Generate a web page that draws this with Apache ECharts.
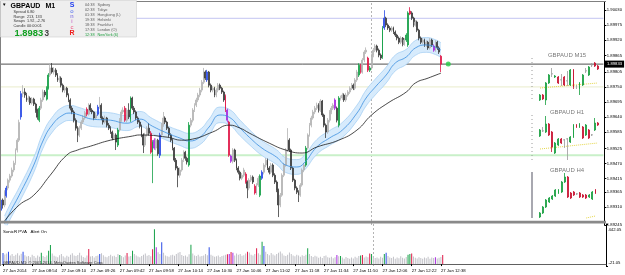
<!DOCTYPE html>
<html>
<head>
<meta charset="utf-8">
<script src="https://cdn.jsdelivr.net/npm/echarts@6/dist/echarts.min.js"></script>
<style>
  html, body { margin: 0; padding: 0; background: #fff; }
  #chart { width: 625px; height: 275px; }
</style>
</head>
<body>
<div id="chart"></div>
<script>
const FONT = 'Liberation Sans';
const SLOTS = 331;          // bar slots across the main window (last bar + empty space on the right)

// time axis, one label every 16 bars
const timeLabels = ['27 Jan 2014','27 Jan 08:54','27 Jan 09:10','27 Jan 09:26','27 Jan 09:42','27 Jan 09:58',
  '27 Jan 10:14','27 Jan 10:30','27 Jan 10:46','27 Jan 11:02','27 Jan 11:18','27 Jan 11:34','27 Jan 11:50',
  '27 Jan 12:06','27 Jan 12:22','27 Jan 12:38'];
const priceTicks = [1.90030,1.89975,1.89920,1.89865,1.89805,1.89750,1.89695,1.89640,1.89585,1.89525,
  1.89470,1.89415,1.89365,1.89310,1.89245];
const volTicks = [442.05, -21.05];

// M1 bars
const opens = [
  1.89299,1.89336,1.89318,1.89352,1.89380,1.89409,1.89424,1.89446,1.89471,1.89519,
  1.89555,1.89640,1.89725,1.89731,1.89720,1.89702,1.89709,1.89691,1.89705,1.89687,
  1.89665,1.89628,1.89672,1.89702,1.89731,1.89705,1.89745,1.89793,1.89819,1.89804,
  1.89811,1.89793,1.89775,1.89782,1.89756,1.89738,1.89745,1.89720,1.89702,1.89672,
  1.89658,1.89628,1.89599,1.89574,1.89599,1.89621,1.89636,1.89668,1.89650,1.89683,
  1.89665,1.89658,1.89636,1.89650,1.89676,1.89683,1.89636,1.89621,1.89636,1.89610,
  1.89599,1.89585,1.89563,1.89574,1.89537,1.89592,1.89628,1.89658,1.89672,1.89628,
  1.89665,1.89630,1.89709,1.89672,1.89658,1.89636,1.89621,1.89606,1.89574,1.89537,
  1.89574,1.89599,1.89580,1.89511,1.89555,1.89526,1.89555,1.89500,1.89574,1.89610,
  1.89636,1.89621,1.89599,1.89574,1.89555,1.89526,1.89482,1.89453,1.89427,1.89446,
  1.89482,1.89511,1.89489,1.89464,1.89610,1.89628,1.89665,1.89683,1.89702,1.89720,
  1.89738,1.89767,1.89804,1.89775,1.89804,1.89756,1.89738,1.89745,1.89720,1.89738,
  1.89756,1.89745,1.89731,1.89716,1.89665,1.89621,1.89497,1.89478,1.89519,1.89482,
  1.89453,1.89438,1.89416,1.89427,1.89431,1.89402,1.89380,1.89409,1.89420,1.89387,
  1.89362,1.89391,1.89354,1.89416,1.89438,1.89464,1.89482,1.89453,1.89438,1.89464,
  1.89427,1.89402,1.89372,1.89318,1.89354,1.89427,1.89464,1.89519,1.89555,1.89519,
  1.89453,1.89409,1.89380,1.89365,1.89354,1.89391,1.89446,1.89464,1.89526,1.89574,
  1.89610,1.89636,1.89658,1.89672,1.89683,1.89665,1.89698,1.89647,1.89610,1.89585,
  1.89628,1.89658,1.89672,1.89702,1.89672,1.89610,1.89705,1.89709,1.89720,1.89702,
  1.89720,1.89731,1.89745,1.89756,1.89745,1.89775,1.89793,1.89829,1.89804,1.89848,
  1.89877,1.89855,1.89811,1.89819,1.89866,1.89884,1.89899,1.89884,1.89866,1.89859,
  1.89965,1.90001,1.89976,1.89965,1.89957,1.89965,1.89950,1.89939,1.89928,1.89913,
  1.89928,1.89906,1.89921,1.89903,1.90027,1.90020,1.90001,1.89976,1.89987,1.89957,
  1.89928,1.89913,1.89921,1.89903,1.89913,1.89892,1.89921,1.89899,1.89884,1.89913,
  1.89892,1.89862];
const closes = [
  1.89336,1.89318,1.89365,1.89380,1.89409,1.89424,1.89446,1.89471,1.89519,1.89555,
  1.89620,1.89725,1.89731,1.89720,1.89702,1.89709,1.89691,1.89705,1.89687,1.89665,
  1.89639,1.89672,1.89702,1.89731,1.89720,1.89745,1.89793,1.89819,1.89804,1.89811,
  1.89793,1.89775,1.89782,1.89756,1.89738,1.89745,1.89720,1.89702,1.89672,1.89658,
  1.89628,1.89599,1.89574,1.89599,1.89621,1.89636,1.89655,1.89650,1.89683,1.89665,
  1.89658,1.89636,1.89647,1.89676,1.89683,1.89636,1.89621,1.89636,1.89610,1.89599,
  1.89585,1.89563,1.89574,1.89548,1.89592,1.89628,1.89658,1.89665,1.89628,1.89665,
  1.89640,1.89709,1.89672,1.89658,1.89636,1.89621,1.89606,1.89574,1.89537,1.89574,
  1.89599,1.89580,1.89511,1.89548,1.89526,1.89555,1.89505,1.89574,1.89610,1.89636,
  1.89621,1.89599,1.89574,1.89555,1.89526,1.89482,1.89453,1.89427,1.89446,1.89482,
  1.89511,1.89489,1.89475,1.89610,1.89628,1.89665,1.89683,1.89702,1.89720,1.89738,
  1.89767,1.89804,1.89782,1.89804,1.89756,1.89738,1.89745,1.89720,1.89738,1.89756,
  1.89745,1.89731,1.89702,1.89665,1.89628,1.89500,1.89478,1.89519,1.89482,1.89453,
  1.89438,1.89416,1.89427,1.89446,1.89402,1.89380,1.89409,1.89420,1.89402,1.89362,
  1.89391,1.89416,1.89424,1.89438,1.89464,1.89482,1.89453,1.89438,1.89464,1.89427,
  1.89402,1.89372,1.89318,1.89354,1.89427,1.89464,1.89519,1.89555,1.89519,1.89453,
  1.89409,1.89380,1.89365,1.89354,1.89391,1.89446,1.89464,1.89526,1.89574,1.89610,
  1.89636,1.89658,1.89672,1.89683,1.89665,1.89698,1.89647,1.89610,1.89585,1.89628,
  1.89658,1.89672,1.89683,1.89672,1.89628,1.89709,1.89709,1.89720,1.89702,1.89720,
  1.89731,1.89745,1.89756,1.89745,1.89775,1.89804,1.89829,1.89804,1.89848,1.89877,
  1.89884,1.89811,1.89819,1.89866,1.89884,1.89899,1.89884,1.89866,1.89855,1.89965,
  1.90001,1.89976,1.89965,1.89957,1.89965,1.89950,1.89939,1.89928,1.89913,1.89928,
  1.89906,1.89921,1.89939,1.90020,1.90016,1.90001,1.89976,1.89987,1.89957,1.89928,
  1.89913,1.89921,1.89903,1.89913,1.89892,1.89921,1.89903,1.89884,1.89913,1.89892,
  1.89877,1.89833];
const lows = [
  1.89290,1.89305,1.89310,1.89345,1.89372,1.89400,1.89418,1.89438,1.89465,1.89510,
  1.89548,1.89630,1.89712,1.89710,1.89695,1.89694,1.89684,1.89685,1.89680,1.89655,
  1.89630,1.89621,1.89665,1.89695,1.89712,1.89700,1.89740,1.89786,1.89798,1.89795,
  1.89786,1.89768,1.89765,1.89748,1.89730,1.89728,1.89712,1.89694,1.89664,1.89650,
  1.89620,1.89590,1.89548,1.89566,1.89592,1.89614,1.89630,1.89642,1.89645,1.89658,
  1.89650,1.89628,1.89630,1.89644,1.89670,1.89628,1.89612,1.89615,1.89602,1.89592,
  1.89578,1.89555,1.89556,1.89519,1.89530,1.89586,1.89622,1.89650,1.89622,1.89620,
  1.89632,1.89622,1.89665,1.89650,1.89628,1.89614,1.89598,1.89566,1.89508,1.89530,
  1.89568,1.89572,1.89505,1.89398,1.89520,1.89518,1.89498,1.89490,1.89568,1.89604,
  1.89614,1.89592,1.89566,1.89548,1.89518,1.89475,1.89445,1.89383,1.89418,1.89440,
  1.89475,1.89480,1.89466,1.89458,1.89602,1.89620,1.89658,1.89676,1.89694,1.89712,
  1.89730,1.89760,1.89775,1.89768,1.89748,1.89730,1.89730,1.89712,1.89712,1.89730,
  1.89738,1.89724,1.89695,1.89658,1.89620,1.89494,1.89472,1.89470,1.89475,1.89445,
  1.89430,1.89408,1.89409,1.89420,1.89396,1.89343,1.89372,1.89402,1.89395,1.89356,
  1.89355,1.89384,1.89347,1.89410,1.89430,1.89456,1.89446,1.89430,1.89432,1.89420,
  1.89395,1.89365,1.89274,1.89310,1.89348,1.89420,1.89458,1.89512,1.89512,1.89446,
  1.89402,1.89372,1.89358,1.89329,1.89348,1.89385,1.89438,1.89458,1.89520,1.89568,
  1.89602,1.89630,1.89650,1.89665,1.89656,1.89658,1.89640,1.89602,1.89563,1.89578,
  1.89620,1.89650,1.89665,1.89665,1.89620,1.89602,1.89700,1.89702,1.89695,1.89695,
  1.89714,1.89724,1.89738,1.89738,1.89738,1.89768,1.89786,1.89798,1.89798,1.89840,
  1.89870,1.89804,1.89804,1.89812,1.89858,1.89877,1.89876,1.89858,1.89848,1.89852,
  1.89958,1.89968,1.89958,1.89950,1.89950,1.89943,1.89932,1.89920,1.89906,1.89906,
  1.89898,1.89900,1.89914,1.89896,1.90012,1.89994,1.89968,1.89970,1.89950,1.89920,
  1.89906,1.89906,1.89896,1.89896,1.89885,1.89886,1.89896,1.89878,1.89878,1.89885,
  1.89870,1.89804];
const highs = [
  1.89345,1.89342,1.89372,1.89388,1.89415,1.89432,1.89455,1.89480,1.89525,1.89562,
  1.89630,1.89735,1.89756,1.89745,1.89728,1.89718,1.89715,1.89712,1.89710,1.89692,
  1.89670,1.89680,1.89710,1.89740,1.89738,1.89752,1.89800,1.89837,1.89837,1.89822,
  1.89818,1.89800,1.89790,1.89788,1.89762,1.89752,1.89750,1.89726,1.89708,1.89680,
  1.89664,1.89635,1.89606,1.89608,1.89628,1.89645,1.89662,1.89675,1.89690,1.89690,
  1.89672,1.89662,1.89655,1.89684,1.89713,1.89690,1.89642,1.89645,1.89640,1.89618,
  1.89606,1.89590,1.89582,1.89580,1.89600,1.89636,1.89666,1.89675,1.89680,1.89672,
  1.89690,1.89715,1.89714,1.89680,1.89664,1.89642,1.89628,1.89612,1.89580,1.89582,
  1.89606,1.89618,1.89588,1.89555,1.89562,1.89562,1.89560,1.89582,1.89618,1.89658,
  1.89642,1.89626,1.89604,1.89580,1.89560,1.89530,1.89490,1.89460,1.89455,1.89490,
  1.89518,1.89516,1.89495,1.89621,1.89636,1.89672,1.89690,1.89710,1.89728,1.89746,
  1.89775,1.89819,1.89810,1.89812,1.89808,1.89762,1.89752,1.89750,1.89745,1.89764,
  1.89762,1.89750,1.89736,1.89722,1.89670,1.89626,1.89502,1.89526,1.89524,1.89488,
  1.89460,1.89444,1.89435,1.89454,1.89438,1.89408,1.89416,1.89428,1.89426,1.89394,
  1.89398,1.89424,1.89430,1.89445,1.89471,1.89490,1.89488,1.89460,1.89472,1.89470,
  1.89434,1.89408,1.89378,1.89362,1.89434,1.89472,1.89526,1.89599,1.89562,1.89524,
  1.89458,1.89414,1.89386,1.89372,1.89398,1.89452,1.89472,1.89534,1.89580,1.89618,
  1.89644,1.89666,1.89680,1.89692,1.89690,1.89705,1.89702,1.89652,1.89616,1.89636,
  1.89665,1.89680,1.89690,1.89708,1.89678,1.89716,1.89718,1.89728,1.89726,1.89728,
  1.89738,1.89752,1.89764,1.89762,1.89782,1.89812,1.89836,1.89834,1.89855,1.89884,
  1.89894,1.89860,1.89826,1.89872,1.89892,1.89906,1.89904,1.89890,1.89872,1.89972,
  1.90030,1.90006,1.89982,1.89972,1.89972,1.89970,1.89956,1.89944,1.89934,1.89935,
  1.89932,1.89928,1.89946,1.90026,1.90041,1.90026,1.90006,1.89994,1.89992,1.89962,
  1.89934,1.89928,1.89926,1.89920,1.89918,1.89928,1.89926,1.89905,1.89920,1.89918,
  1.89898,1.89866];

// SonicR PVA tick volume
const volumes = [
  122,105,118,137,96,110,88,102,120,95, 115,137,98,84,90,76,102,88,70,95,
  82,126,90,78,96,148,210,118,92,84, 76,98,110,86,72,92,80,104,120,96,
  88,100,126,94,78,70,96,166,84,90, 72,88,96,111,120,98,82,76,90,104,
  86,92,78,112,100,88,76,94,122,84, 90,148,112,96,84,76,90,102,118,92,
  100,86,163,383,185,130,112,240,126,94, 86,80,98,104,92,110,124,132,100,88,
  94,82,108,214,118,96,88,102,84,90, 96,112,98,185,104,92,80,86,94,78,
  88,96,102,108,111,133,126,96,118,104, 110,92,98,116,137,128,102,94,110,174,
  120,104,247,200,136,112,98,122,106,94, 110,124,140,118,96,88,104,128,110,96,
  86,102,94,82,98,90,104,174,112,88, 78,92,84,70,80,66,88,94,76,70,
  82,64,76,100,86,89,72,60,78,66, 58,74,62,80,70,88,96,100,72,84,
  76,118,111,90,68,74,62,80,70,111, 126,88,74,66,80,58,72,64,86,70,
  62,78,104,111,118,84,70,62,76,66, 58,72,64,80,60,74,68,75,62,70,
  78,100];

// PVA candle classes
const greenBars  = [21,25,26,64,71,83,103,142,167,185,196,202,209,222,223];
const redBars    = [47,68,82,123,125,134,139,197,201,224,241];
const blueBars   = [0,3,11,53,87,113,143,210];
const purpleBars = [84,124,126,183,237];

// dragon band (EMA34 high / close / low) and slow MA, sampled along the bars
const bandIdx = [2,5,10,18,23,28,34,38,43,50,60,69,76,83,91,98,103,109,114,120,125,131,136,143,151,156,162,166,173,180,187,195,200,205,211,216,222,227,233,238,241];
const bandUpper = [1.89278,1.89320,1.89382,1.89492,1.89580,1.89638,1.89676,1.89682,1.89674,1.89660,1.89655,1.89645,1.89660,1.89634,1.89608,1.89590,1.89580,1.89594,1.89632,1.89676,1.89668,1.89628,1.89594,1.89553,1.89520,1.89491,1.89484,1.89498,1.89557,1.89590,1.89620,1.89683,1.89738,1.89778,1.89822,1.89866,1.89887,1.89919,1.89930,1.89922,1.89911];
const bandMid = [1.89250,1.89292,1.89354,1.89464,1.89552,1.89610,1.89647,1.89654,1.89647,1.89632,1.89628,1.89617,1.89632,1.89606,1.89581,1.89563,1.89552,1.89566,1.89603,1.89647,1.89639,1.89599,1.89566,1.89526,1.89493,1.89464,1.89457,1.89471,1.89530,1.89563,1.89592,1.89654,1.89709,1.89749,1.89793,1.89837,1.89859,1.89892,1.89903,1.89895,1.89884];
const bandLower = [1.89223,1.89265,1.89327,1.89437,1.89525,1.89583,1.89620,1.89627,1.89620,1.89605,1.89601,1.89590,1.89605,1.89579,1.89554,1.89536,1.89525,1.89539,1.89575,1.89619,1.89611,1.89571,1.89539,1.89499,1.89466,1.89437,1.89430,1.89444,1.89503,1.89536,1.89565,1.89626,1.89680,1.89720,1.89764,1.89808,1.89832,1.89865,1.89876,1.89868,1.89857];
const slowIdx = [2,10,18,27,36,42,49,60,72,76,91,99,105,116,125,131,136,147,156,165,173,185,195,203,212,222,227,234,241];
const slowMa = [1.89260,1.89318,1.89354,1.89427,1.89500,1.89519,1.89533,1.89555,1.89570,1.89574,1.89566,1.89555,1.89559,1.89585,1.89610,1.89599,1.89581,1.89544,1.89519,1.89508,1.89530,1.89555,1.89592,1.89647,1.89691,1.89731,1.89764,1.89782,1.89800];

// horizontal levels drawn across the window
const levelPrices = [1.90000, 1.89750, 1.89500];
const levelColors = ['#cfd0f4', '#eef0d6', '#c9f0c9'];
const levelWidths = [1.2, 1.2, 2];
const lastPrice = 1.89833;
const cursorBar = 203;
const signalBar = 245;

// multi-timeframe mini charts
const m15Open  = [1.89323,1.89398,1.89323,1.89578,1.89713,1.89668,1.89668,1.89623,1.89668,1.89608,1.89548,1.89773,1.89503,1.89488,1.89548,1.89758,1.89698,1.89848,1.89878,1.89833];
const m15Close = [1.89398,1.89338,1.89578,1.89698,1.89716,1.89683,1.89578,1.89626,1.89548,1.89611,1.89773,1.89518,1.89506,1.89578,1.89698,1.89761,1.89818,1.89851,1.89833,1.89788];
const m15Low   = [1.89308,1.89323,1.89248,1.89563,1.89668,1.89653,1.89563,1.89533,1.89533,1.89533,1.89533,1.89488,1.89488,1.89398,1.89533,1.89728,1.89683,1.89818,1.89818,1.89773];
const m15High  = [1.89413,1.89413,1.89593,1.89713,1.89803,1.89698,1.89683,1.89713,1.89683,1.89758,1.89788,1.89788,1.89548,1.89593,1.89713,1.89803,1.89833,1.89878,1.89893,1.89848];
const h1Open  = [1.89613,1.89713,1.89693,1.89853,1.89693,1.89273,1.89433,1.89553,1.89533,1.89553,1.89493,1.89593,1.89833,1.89793,1.89793,1.89633,1.89733,1.89633,1.89733,1.89873];
const h1Close = [1.89733,1.89716,1.89853,1.89633,1.89393,1.89473,1.89553,1.89473,1.89536,1.89556,1.89593,1.89833,1.89793,1.89853,1.89573,1.89833,1.89573,1.89636,1.89873,1.89833];
const h1Low   = [1.89593,1.89693,1.89673,1.89613,1.89293,1.89253,1.89413,1.89453,1.89373,1.89133,1.89473,1.89573,1.89773,1.89773,1.89553,1.89613,1.89553,1.89613,1.89713,1.89813];
const h1High  = [1.89753,1.89793,1.90013,1.89873,1.89713,1.89493,1.89573,1.89573,1.89553,1.89573,1.89613,1.89853,1.89853,1.89873,1.89813,1.89853,1.89753,1.89653,1.89973,1.89893];
const h4Open  = [1.88873,1.89033,1.89273,1.89473,1.89593,1.89713,1.89833,1.89873,1.90273,1.90473,1.89833,1.89873,1.89793,1.89833,1.89753,1.89753,1.89673,1.89593,1.89953];
const h4Close = [1.89033,1.89273,1.89553,1.89633,1.89713,1.89953,1.89953,1.90273,1.90473,1.89673,1.89633,1.89753,1.89800,1.89673,1.89673,1.89633,1.89753,1.89873,1.89833];
const h4Low   = [1.88833,1.88993,1.89233,1.89433,1.89553,1.89673,1.89793,1.89833,1.90233,1.89633,1.89593,1.89713,1.89753,1.89633,1.89633,1.89593,1.89633,1.89553,1.89793];
const h4High  = [1.89073,1.89313,1.89593,1.89673,1.89753,1.89993,1.89993,1.90313,1.90633,1.90513,1.89873,1.89913,1.89833,1.89873,1.89793,1.89793,1.89793,1.89913,1.89993];
const m15Trend = [[0, 1.89503], [19, 1.89578]];
const h1Trend  = [[0, 1.89353], [19, 1.89473]];
const h4Trend  = [[15, 1.88833], [18, 1.88913]];

const PVA = { green: '#14a046', red: '#e01848', blue: '#2a4ae6', purple: '#a828e0' };

function pvaClass(i) {
  if (greenBars.includes(i)) return 'green';
  if (redBars.includes(i)) return 'red';
  if (blueBars.includes(i)) return 'blue';
  if (purpleBars.includes(i)) return 'purple';
  return null;
}
function candleColor(i) {
  const k = pvaClass(i);
  if (k) return PVA[k];
  return closes[i] >= opens[i] ? '#b4b4b4' : '#3a3a3a';
}
function volColor(i) {
  const k = pvaClass(i);
  return k ? PVA[k] : '#c2c2c8';
}
function styled(value, c) {
  return { value, itemStyle: { color: c, color0: c, borderColor: c, borderColor0: c } };
}
function miniData(o, c, l, h) {
  return o.map((v, i) => {
    const col = Math.abs(c[i] - v) < 0.0001 ? '#9a9a9a' : (c[i] > v ? '#18a040' : '#c8102e');
    return styled([v, c[i], l[i], h[i]], col);
  });
}

const slots = Array.from({ length: SLOTS }, (_, i) => i);
const showTime = i => i % 16 === 0 && i / 16 < timeLabels.length;

const candleData = opens.map((o, i) => styled([o, closes[i], lows[i], highs[i]], candleColor(i)));
const volData = volumes.map((v, i) => ({ value: v, itemStyle: { color: volColor(i) } }));

// a flat line across the whole main window at one price
function levelSeries(price, color, width, z, extra) {
  return Object.assign({ type: 'line', xAxisIndex: 0, yAxisIndex: 0, z, silent: true, symbol: 'none',
    data: [[0, price], [SLOTS - 1, price]], lineStyle: { color, width } }, extra || {});
}

function txt(x, y, text, size, color, weight, align) {
  const a = align || 'left';
  return { type: 'text', x, y, z: 100, silent: true,
    style: { text, fill: color, font: (weight || 'normal') + ' ' + size + 'px ' + FONT,
      align: a, textAlign: a, verticalAlign: 'middle', textVerticalAlign: 'middle' } };
}
function hline(x1, y1, x2, y2, color, dash, width) {
  return { type: 'line', z: 90, silent: true, shape: { x1, y1, x2, y2 },
    style: { stroke: color, lineWidth: width || 1, lineDash: dash || null } };
}

const infoRows = [['Spread', '6.80'], ['Range', '213, 133'], ['Swaps', '1.92, -2.76'], ['Candle', '00:00:01']];
const sessions = [['04:38', 'Sydney'], ['02:38', 'Tokyo'], ['01:38', 'Hongkong (L)'], ['19:38', 'Helsinki'],
  ['18:38', 'Frankfurt'], ['17:38', 'London (O)'], ['12:38', 'NewYork (6)']];
const sonicLetters = [['S', '#1e3cf0', 'bold', 7], ['o', '#4a6af0', 'normal', 6], ['n', '#6a5ae0', 'normal', 6],
  ['i', '#c050c0', 'normal', 6], ['c', '#f05080', 'normal', 6], ['R', '#f01e1e', 'bold', 7]];
const sonicY = [5, 11.5, 16.7, 21.8, 27.3, 33.3];

const graphics = [
  hline(0, 1.5, 606, 1.5, '#808080'),
  hline(0.5, 1, 0.5, 266, '#808080'),
  { type: 'rect', z: 90, silent: true, shape: { x: 0, y: 220.8, width: 606, height: 2.6 }, style: { fill: '#8a8a8a' } },
  // info panel
  { type: 'rect', z: 99, silent: true, shape: { x: 0.5, y: 0.5, width: 136, height: 36.5 },
    style: { fill: '#eeeeee', stroke: '#cfcfcf', lineWidth: 0.6 } },
  txt(2, 5, '\u25BC', 4.5, '#000'),
  txt(10.5, 5.8, 'GBPAUD', 7, '#000', 'bold'),
  txt(45.5, 5.8, 'M1', 7, '#000', 'bold'),
  txt(14.5, 33.5, '1.8983', 9.4, '#10a020', 'bold'),
  txt(44.5, 33.8, '3', 8.2, '#404040', 'bold'),
  // mini chart titles and side marks
  txt(567, 55.5, 'GBPAUD M15', 6, '#7a7a7a', 'normal', 'center'),
  txt(567, 112.5, 'GBPAUD H1', 6, '#7a7a7a', 'normal', 'center'),
  txt(567, 170.5, 'GBPAUD H4', 6, '#7a7a7a', 'normal', 'center'),
  hline(532, 58, 532, 100, '#9a9a9a', [1, 3]),
  hline(532, 115, 532, 160, '#9a9a9a', [1, 3]),
  { type: 'rect', z: 90, silent: true, shape: { x: 531, y: 172, width: 2, height: 46 }, style: { fill: '#a8a8b0' } },
  // sub window captions
  txt(3, 232, 'SonicR PVA   Alert On', 4.4, '#000'),
  txt(3, 262.6, 'GBPAUD,M1: \u00A9 2001-2014, MetaQuotes Software Corp.', 4, '#303030')
];
infoRows.forEach((r, k) => {
  const y = 12.3 + k * 4.5;
  graphics.push(txt(13.5, y, r[0], 3.8, '#333'));
  graphics.push(txt(27, y, r[1], 3.8, '#333'));
});
sonicLetters.forEach((s, k) => graphics.push(txt(72, sonicY[k], s[0], s[3], s[1], s[2], 'center')));
sessions.forEach((s, k) => {
  const y = 5 + k * 5;
  const col = k === sessions.length - 1 ? '#20a040' : '#606060';
  graphics.push(txt(85, y, s[0], 3.8, col));
  graphics.push(txt(97.5, y, s[1], 3.8, col));
});

const miniX = n => ({ type: 'category', data: Array.from({ length: n }, (_, i) => i), show: false, boundaryGap: true });
const miniY = (min, max) => ({ type: 'value', min, max, show: false, splitLine: { show: false } });
const trendLine = (data, idx) => ({ type: 'line', xAxisIndex: idx, yAxisIndex: idx, data, symbol: 'none', silent: true,
  lineStyle: { color: '#e6d84a', width: 1, type: 'dotted' }, z: 3 });
const miniCandles = (data, idx) => ({ type: 'candlestick', xAxisIndex: idx, yAxisIndex: idx, data, barWidth: 1.4,
  itemStyle: { borderWidth: 0.8 }, silent: true, z: 4 });

const cursorLine = { silent: true, symbol: 'none', animation: false, label: { show: false }, z: 0,
  data: [{ xAxis: cursorBar, lineStyle: { color: '#b4b4b4', width: 1, type: [2, 2] } }] };

const series = levelPrices.map((p, k) => levelSeries(p, levelColors[k], levelWidths[k], 0));
series.push(
  levelSeries(lastPrice, '#505050', 1, 0, {
    endLabel: { show: true, formatter: lastPrice.toFixed(5), backgroundColor: '#000', color: '#fff',
      fontSize: 4.2, padding: [1.5, 2, 1.5, 2], distance: 1.5, fontFamily: FONT } }),
  // dragon band
  { type: 'line', xAxisIndex: 0, yAxisIndex: 0, stack: 'band', smooth: true, symbol: 'none', silent: true, z: 1,
    data: bandIdx.map((x, k) => [x, bandLower[k]]),
    lineStyle: { color: '#9fcbf2', width: 0.7 }, markLine: cursorLine },
  { type: 'line', xAxisIndex: 0, yAxisIndex: 0, stack: 'band', smooth: true, symbol: 'none', silent: true, z: 1,
    data: bandIdx.map((x, k) => [x, bandUpper[k] - bandLower[k]]),
    lineStyle: { color: '#9fcbf2', width: 0.7 }, areaStyle: { color: '#d7ebfc', opacity: 1 } },
  // M1 candles
  { type: 'candlestick', xAxisIndex: 0, yAxisIndex: 0, data: candleData, barWidth: 1.4, silent: true, z: 2,
    itemStyle: { borderWidth: 0.8 } },
  { type: 'line', xAxisIndex: 0, yAxisIndex: 0, smooth: true, symbol: 'none', silent: true, z: 3,
    data: bandIdx.map((x, k) => [x, bandMid[k]]), lineStyle: { color: '#3a8ee0', width: 0.8 } },
  { type: 'line', xAxisIndex: 0, yAxisIndex: 0, smooth: true, symbol: 'none', silent: true, z: 3,
    data: slowIdx.map((x, k) => [x, slowMa[k]]), lineStyle: { color: '#1a1a1a', width: 0.8 } },
  { type: 'scatter', xAxisIndex: 0, yAxisIndex: 0, data: [[signalBar, lastPrice]], symbolSize: 5, silent: true, z: 4,
    itemStyle: { color: '#22cc44' } },
  // volume window
  { type: 'bar', xAxisIndex: 1, yAxisIndex: 1, data: volData, barWidth: 1, silent: true, z: 2, markLine: cursorLine },
  // mini charts
  trendLine(m15Trend, 2), trendLine(h1Trend, 3), trendLine(h4Trend, 4),
  miniCandles(miniData(m15Open, m15Close, m15Low, m15High), 2),
  miniCandles(miniData(h1Open, h1Close, h1Low, h1High), 3),
  miniCandles(miniData(h4Open, h4Close, h4Low, h4High), 4)
);

const chart = echarts.init(document.getElementById('chart'));
chart.setOption({
  animation: false,
  backgroundColor: '#ffffff',
  textStyle: { fontFamily: FONT },
  grid: [
    { left: 0, top: 2, width: 606, height: 223 },
    { left: 0, top: 224, width: 606, height: 42 },
    { left: 538.5, top: 60, width: 60.8, height: 46 },
    { left: 538.5, top: 116, width: 60.8, height: 44 },
    { left: 538.5, top: 172, width: 58.5, height: 48 }
  ],
  xAxis: [
    { type: 'category', gridIndex: 0, data: slots, boundaryGap: true,
      axisLine: { show: false }, axisTick: { show: false }, axisLabel: { show: false }, splitLine: { show: false } },
    { type: 'category', gridIndex: 1, data: slots, boundaryGap: true,
      axisLine: { show: true, lineStyle: { color: '#606060', width: 1 } },
      axisTick: { show: true, alignWithLabel: true, interval: i => showTime(i), length: 2, lineStyle: { color: '#000' } },
      axisLabel: { interval: i => showTime(i), formatter: (v, i) => timeLabels[i / 16], align: 'left',
        fontSize: 4.3, color: '#000', margin: 2.5, fontFamily: FONT } },
    Object.assign({ gridIndex: 2 }, miniX(20)),
    Object.assign({ gridIndex: 3 }, miniX(20)),
    Object.assign({ gridIndex: 4 }, miniX(19))
  ],
  yAxis: [
    { type: 'value', gridIndex: 0, position: 'right', min: 1.89245, max: 1.90060,
      axisLine: { show: true, lineStyle: { color: '#000', width: 1 } },
      axisTick: { show: true, customValues: priceTicks, length: 2, lineStyle: { color: '#000' } },
      axisLabel: { customValues: priceTicks, formatter: v => v.toFixed(5), fontSize: 4.2, color: '#000', margin: 2.5, fontFamily: FONT },
      splitLine: { show: false } },
    { type: 'value', gridIndex: 1, position: 'right', min: -21.05, max: 442.05,
      axisLine: { show: true, lineStyle: { color: '#000', width: 1 } },
      axisTick: { show: true, customValues: volTicks, length: 2, lineStyle: { color: '#000' } },
      axisLabel: { customValues: volTicks, fontSize: 4.2, color: '#000', margin: 2.5, fontFamily: FONT,
        formatter: v => (v > 0 ? '{t|' : '{b|') + v.toFixed(2) + '}',
        rich: { t: { fontSize: 4.2, padding: [12, 0, 0, 0] }, b: { fontSize: 4.2, padding: [0, 0, 6, 0] } } },
      splitLine: { show: false } },
    Object.assign({ gridIndex: 2 }, miniY(1.89233, 1.89923)),
    Object.assign({ gridIndex: 3 }, miniY(1.89133, 1.90013)),
    Object.assign({ gridIndex: 4 }, miniY(1.88753, 1.90673))
  ],
  series,
  graphic: graphics
});
</script>
</body>
</html>
